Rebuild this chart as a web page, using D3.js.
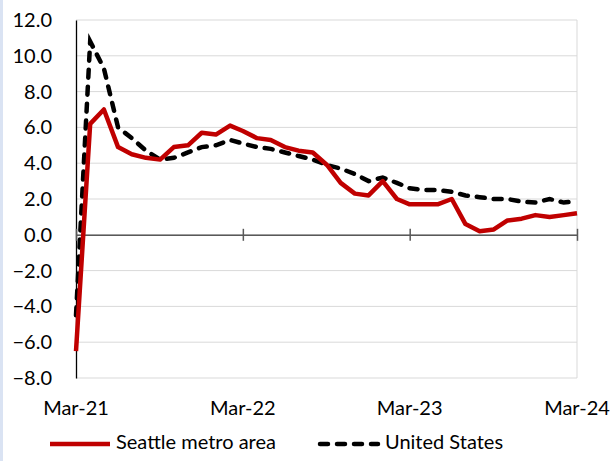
<!DOCTYPE html>
<html>
<head>
<meta charset="utf-8">
<script src="https://cdn.jsdelivr.net/npm/d3@7"></script>
<style>
  body { margin: 0; background: #fff; }
  text { font-family: Lato, "Open Sans", sans-serif; fill: #000; }
</style>
</head>
<body>
<svg></svg>
<script>
// Monthly values, Mar-21 .. Mar-24
const months = d3.range(37).map((i) => new Date(2021, 2 + i, 1));
const seattle = [
  -6.5, 6.2, 7.0, 4.9, 4.5, 4.3, 4.2, 4.9, 5.0, 5.7, 5.6, 6.1,
  5.8, 5.4, 5.3, 4.9, 4.7, 4.6, 3.9, 2.9, 2.3, 2.2, 3.0, 2.0,
  1.7, 1.7, 1.7, 2.0, 0.6, 0.2, 0.3, 0.8, 0.9, 1.1, 1.0, 1.1, 1.2
];
const unitedStates = [
  -4.5, 10.8, 9.3, 6.0, 5.4, 4.7, 4.2, 4.3, 4.6, 4.9, 5.0, 5.3,
  5.1, 4.9, 4.8, 4.6, 4.4, 4.2, 3.9, 3.7, 3.4, 3.0, 3.2, 2.9,
  2.6, 2.5, 2.5, 2.4, 2.2, 2.1, 2.0, 2.0, 1.85, 1.8, 2.0, 1.8, 1.9
];
const yTicks = [-8, -6, -4, -2, 0, 2, 4, 6, 8, 10, 12];
const xTickDates = [new Date(2021, 2, 1), new Date(2022, 2, 1), new Date(2023, 2, 1), new Date(2024, 2, 1)];
const seriesNames = ["Seattle metro area", "United States"];

const width = 615, height = 461;
const svg = d3.select("svg").attr("width", width).attr("height", height);

// thin blue frame strip on the left
svg.append("rect").attr("x", 0).attr("y", 0).attr("width", 3).attr("height", height).style("fill", "#dae3f3");

const x = d3.scaleTime().domain([months[0], months[36]]).range([76, 577]);
const y = d3.scaleLinear().domain([-8, 12]).range([378, 20]);

// gridlines
svg.append("g")
  .selectAll("line")
  .data(yTicks)
  .enter()
  .append("line")
  .attr("x1", 76).attr("x2", 577)
  .attr("y1", (d) => y(d)).attr("y2", (d) => y(d))
  .style("stroke", "#d9d9d9").style("stroke-width", 1);

// right border
svg.append("line")
  .attr("x1", 577).attr("x2", 577).attr("y1", 20).attr("y2", 378)
  .style("stroke", "#d9d9d9");

// y axis
const yAxis = svg.append("g")
  .attr("transform", "translate(76,0)")
  .call(d3.axisLeft(y).tickValues(yTicks).tickSize(0).tickPadding(24).tickFormat(d3.format(".1f")));
yAxis.select(".domain").style("stroke", "#000").style("stroke-width", 1.3);
yAxis.selectAll("text").style("font-size", "20px").attr("font-family", null);

// zero line with year ticks
const xAxis = svg.append("g")
  .attr("transform", `translate(0,${y(0)})`)
  .call(d3.axisBottom(x).tickValues(xTickDates).tickSize(6).tickSizeOuter(0).tickFormat(""));
xAxis.select(".domain").style("stroke", "#595959").style("stroke-width", 1.5);
xAxis.selectAll(".tick line").attr("y1", -6).style("stroke", "#595959").style("stroke-width", 1.5);

// bottom date labels
svg.append("g")
  .selectAll("text")
  .data(xTickDates)
  .enter()
  .append("text")
  .attr("x", (d) => x(d))
  .attr("y", 410)
  .attr("text-anchor", "middle")
  .attr("dominant-baseline", "middle")
  .style("font-size", "20px")
  .text((d) => d3.timeFormat("%b-%y")(d));

const line = d3.line()
  .x((_d, i) => x(months[i]))
  .y((d) => y(d));

svg.append("path")
  .datum(unitedStates)
  .attr("d", line)
  .style("fill", "none").style("stroke", "#000").style("stroke-width", 4.5)
  .style("stroke-dasharray", "8,9").style("stroke-linecap", "round");

svg.append("path")
  .datum(seattle)
  .attr("d", line)
  .style("fill", "none").style("stroke", "#c00000").style("stroke-width", 4.5)
  .style("stroke-linejoin", "round");

// legend
const legend = svg.append("g").attr("transform", "translate(0,444)");
legend.append("line").attr("x1", 50).attr("x2", 110).attr("y1", 0).attr("y2", 0)
  .style("stroke", "#c00000").style("stroke-width", 4.5);
legend.append("text").attr("x", 116).attr("y", 0).attr("dominant-baseline", "middle")
  .style("font-size", "20px").text(seriesNames[0]);
legend.append("line").attr("x1", 320).attr("x2", 378).attr("y1", 0).attr("y2", 0)
  .style("stroke", "#000").style("stroke-width", 4.5)
  .style("stroke-dasharray", "8,9").style("stroke-linecap", "round");
legend.append("text").attr("x", 385).attr("y", 0).attr("dominant-baseline", "middle")
  .style("font-size", "20px").text(seriesNames[1]);
</script>
</body>
</html>
